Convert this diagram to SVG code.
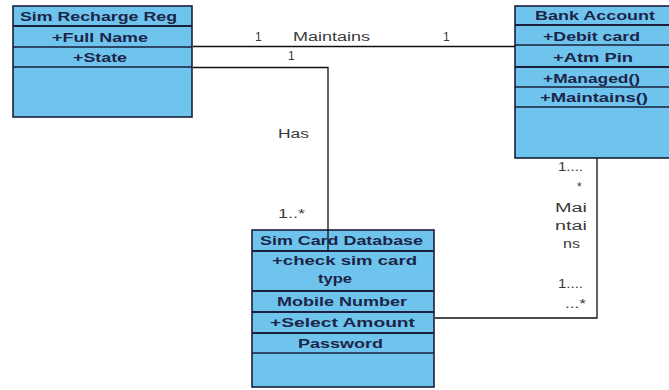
<svg xmlns="http://www.w3.org/2000/svg" width="669" height="390" viewBox="0 0 669 390">
<style>
.box{fill:#6fc4ee;stroke:#1b1f3b;stroke-width:1.6}
.sep{stroke:#1b1f3b;stroke-width:1.6;fill:none}
.sepb{stroke:#1b1f3b;stroke-width:2.2;fill:none}
.t{font-family:"Liberation Sans",Arial,sans-serif;font-weight:bold;font-size:13px;fill:#1c2447}
.l{font-family:"Liberation Sans",Arial,sans-serif;font-size:12px;fill:#3a3a3a}
.c{stroke:#111;stroke-width:1.3;fill:none}
</style>
<rect x="0" y="0" width="669" height="390" fill="#ffffff"/>
<g id="sim-recharge-reg">
<rect class="box" x="13" y="6" width="179" height="111"/>
<line class="sepb" x1="13" y1="26" x2="192" y2="26"/>
<line class="sep" x1="13" y1="47" x2="192" y2="47"/>
<line class="sep" x1="13" y1="67" x2="192" y2="67"/>
<text class="t" x="20" y="21" textLength="157" lengthAdjust="spacingAndGlyphs">Sim Recharge Reg</text>
<text class="t" x="52" y="42" textLength="96" lengthAdjust="spacingAndGlyphs">+Full Name</text>
<text class="t" x="73" y="62" textLength="54" lengthAdjust="spacingAndGlyphs">+State</text>
</g>
<g id="bank-account">
<rect class="box" x="515" y="6" width="160" height="152"/>
<line class="sepb" x1="515" y1="25" x2="675" y2="25"/>
<line class="sep" x1="515" y1="45" x2="675" y2="45"/>
<line class="sepb" x1="515" y1="67" x2="675" y2="67"/>
<line class="sep" x1="515" y1="87" x2="675" y2="87"/>
<line class="sep" x1="515" y1="107" x2="675" y2="107"/>
<text class="t" x="535" y="20" textLength="120" lengthAdjust="spacingAndGlyphs">Bank Account</text>
<text class="t" x="543" y="41" textLength="97" lengthAdjust="spacingAndGlyphs">+Debit card</text>
<text class="t" x="553" y="62" textLength="80" lengthAdjust="spacingAndGlyphs">+Atm Pin</text>
<text class="t" x="543" y="83" textLength="97" lengthAdjust="spacingAndGlyphs">+Managed()</text>
<text class="t" x="540" y="102" textLength="108" lengthAdjust="spacingAndGlyphs">+Maintains()</text>
</g>
<g id="sim-card-database">
<rect class="box" x="252" y="230" width="182" height="157"/>
<line class="sepb" x1="252" y1="251" x2="434" y2="251"/>
<line class="sepb" x1="252" y1="291" x2="434" y2="291"/>
<line class="sepb" x1="252" y1="312" x2="434" y2="312"/>
<line class="sepb" x1="252" y1="333" x2="434" y2="333"/>
<line class="sep" x1="252" y1="353" x2="434" y2="353"/>
<text class="t" x="260" y="245" textLength="163" lengthAdjust="spacingAndGlyphs">Sim Card Database</text>
<text class="t" x="272" y="265" textLength="145" lengthAdjust="spacingAndGlyphs">+check sim card</text>
<text class="t" x="318" y="283" textLength="34" lengthAdjust="spacingAndGlyphs">type</text>
<text class="t" x="277" y="306" textLength="130" lengthAdjust="spacingAndGlyphs">Mobile Number</text>
<text class="t" x="270" y="327" textLength="145" lengthAdjust="spacingAndGlyphs">+Select Amount</text>
<text class="t" x="298" y="348" textLength="85" lengthAdjust="spacingAndGlyphs">Password</text>
</g>
<g id="connectors">
<polyline class="c" points="193,46.5 515,46.5"/>
<polyline class="c" points="193,67.5 328,67.5 328,251"/>
<polyline class="c" points="597,158 597,318 435,318"/>
<text class="l" x="255" y="41">1</text>
<text class="l" x="293" y="41" textLength="77" lengthAdjust="spacingAndGlyphs">Maintains</text>
<text class="l" x="443" y="41">1</text>
<text class="l" x="288" y="60">1</text>
<text class="l" x="278" y="138" textLength="31" lengthAdjust="spacingAndGlyphs">Has</text>
<text class="l" x="278" y="218" textLength="27" lengthAdjust="spacingAndGlyphs">1..*</text>
<text class="l" x="558" y="171" textLength="25" lengthAdjust="spacingAndGlyphs">1....</text>
<text class="l" x="577" y="191">*</text>
<text class="l" x="555" y="212" textLength="32" lengthAdjust="spacingAndGlyphs">Mai</text>
<text class="l" x="555" y="230" textLength="32" lengthAdjust="spacingAndGlyphs">ntai</text>
<text class="l" x="563" y="248" textLength="17" lengthAdjust="spacingAndGlyphs">ns</text>
<text class="l" x="558" y="288" textLength="25" lengthAdjust="spacingAndGlyphs">1....</text>
<text class="l" x="565" y="308" textLength="21" lengthAdjust="spacingAndGlyphs">...*</text>
</g>
</svg>
